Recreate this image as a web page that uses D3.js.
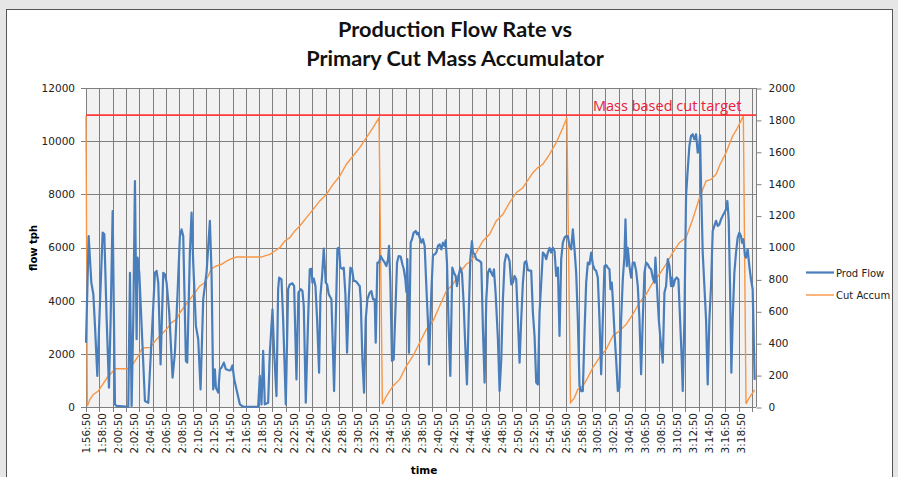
<!DOCTYPE html>
<html><head><meta charset="utf-8">
<script src="https://cdn.jsdelivr.net/npm/d3@7/dist/d3.min.js"></script>
<style>body{margin:0;background:#e6e6e6;} svg{display:block}</style>
</head><body><svg id="c" width="898" height="477"></svg>
<script>
// ---------- DATA ----------
const titleLines = ["Production Flow Rate vs", "Primary Cut Mass Accumulator"];
const timeLabels = ["1:56:50","1:58:50","2:00:50","2:02:50","2:04:50","2:06:50","2:08:50","2:10:50","2:12:50","2:14:50",
  "2:16:50","2:18:50","2:20:50","2:22:50","2:24:50","2:26:50","2:28:50","2:30:50","2:32:50","2:34:50",
  "2:36:50","2:38:50","2:40:50","2:42:50","2:44:50","2:46:50","2:48:50","2:50:50","2:52:50","2:54:50",
  "2:56:50","2:58:50","3:00:50","3:02:50","3:04:50","3:06:50","3:08:50","3:10:50","3:12:50","3:14:50",
  "3:16:50","3:18:50"];
const nCategories = 504;      // 10-second samples
const labelEvery = 12;        // 2 minutes
const tickEvery = 10;
const leftTicks = [0,2000,4000,6000,8000,10000,12000];
const rightTicks = [0,200,400,600,800,1000,1200,1400,1600,1800,2000];
const cutTarget = 1830;
const seriesNames = ["Prod Flow","Cut Accum"];

// [sample index, flow tph]
const prodFlow = [[0,2420],[2,6430],[4,4680],[5.5,4240],[6.75,3050],[8.5,1170],[10.5,3920],[12.5,6560],[13.75,6500],[15.5,3300],[17.25,730],[18.5,3300],[20,7370],[21.75,100],[23,40],[31.75,10],[33,5050],[34.25,40],[35.5,3300],[36.75,8500],[38,2550],[38.75,5620],[40,5050],[41.75,3050],[44.25,225],[46.75,160],[49.25,2550],[51.75,5050],[53,5120],[54.25,4680],[56,1600],[58,5050],[59.25,4990],[60.5,4680],[62.5,3550],[65,1100],[66.75,2040],[68.75,4300],[70.5,6430],[71.75,6680],[73,6430],[75,1730],[76,1670],[78,5810],[79.25,7310],[80.5,5430],[82.5,3050],[84.25,2550],[86,660],[88,4050],[90.5,5050],[93,7000],[94.25,5050],[95.5,660],[96.75,1420],[97.5,730],[99.25,540],[100.5,1420],[101.75,1480],[103.5,1670],[105,1420],[106.75,1390],[108.5,1380],[110,1570],[111.25,1040],[113,660],[115.5,100],[118,10],[129.25,10],[130.5,1170],[131.75,100],[133,2110],[134.25,100],[136.75,160],[138,2040],[140,3670],[141.25,2040],[143,410],[144.25,4430],[145,4870],[146.75,4800],[148,3300],[150,100],[151.75,4430],[153,4610],[155,4650],[156.25,4550],[158,1040],[159.5,4300],[161.25,4430],[162.5,4360],[163.5,3800],[165,160],[166.75,3300],
[168,5180],[169.25,5200],[170,4680],[171,4830],[172.25,4550],[173.5,3300],[175,1290],[176,4180],[177.25,4930],[178.5,5960],[180,4680],[181,4610],[182.25,4240],[184.25,4050],[185.5,1920],[186.25,600],[187.5,3300],[188.75,5960],[190,5990],[191,5240],[192.5,5200],[193.5,5240],[194.75,4240],[196,2040],[197.25,4050],[198.5,5240],[199.75,5180],[201,4740],[202.25,4740],[203.5,4680],[204.75,4590],[205.5,4550],[206.25,4050],[207.5,1790],[208.75,540],[210,3300],[211.25,4050],[213,4300],[214.25,4360],[215.5,4050],[216.75,4050],[217.5,2420],[218.75,5430],[220,5430],[221.25,5680],[222.5,5560],[224.25,5430],[225.5,5300],[226.75,5560],[227.5,6060],[228.5,4680],[229.75,1730],[231,1790],[232.5,3920],[233.5,5430],[234.75,5680],[236.25,5660],[237.5,5370],[238.5,5200],[239.75,4800],[240.5,4330],[241.25,5560],[242.5,2040],[243.75,6180],[244.75,6310],[246,6560],[247.5,6620],[248.5,6500],[249.25,6560],[250.5,6370],[251.75,6180],[253,6310],[254.25,6060],[255.5,4550],[256.75,3170],[257.5,1600],[259.25,4300],[260.5,5720],[261.75,5740],[263,5810],[264.25,6060],[265.5,6120],[266.75,5930],[268,6180],[269.25,6060],[270,6270],[271,5430],[272.25,3050],[273.5,1170],[275,5240],[276.25,5050],[277.5,4930],[278.5,4550],[279.75,4930],[281,5240],[282.25,5050],[283.5,3920],[284.75,2290],[286,850],[287.25,3300],[288.5,5560],[289.75,6240],[290.5,5810],[291.75,5740],[293,5560],[295.5,5490],[296.75,5430],[298,2920],[299.25,920],[300.5,4050],[301.75,5050],[303,5200],[304.25,5050],[305.5,4930],[306.25,5180],[307.5,4300],[309.25,2550],[310.5,600],[311.75,1790],[313,4050],[314.25,5430],[315.5,5740],[316.75,5680],[318,5490],[319.25,4610],[320.5,4680],[321.75,4930],[323,4800],[324.25,3300],[325.5,1670],
[326.75,3300],[328,4680],[329.25,5430],[330.5,5490],[331.75,5150],[334.25,5120],[335.5,3550],[336.75,2670],[338,920],[339.25,850],[340.5,3550],[341.75,4680],[343,5810],[344.25,5740],[345.5,5560],[346.75,5810],[348,5990],[349.25,5810],[350.5,5990],[351.75,5870],[353,4930],[354.25,5240],[355.5,2670],[356.75,5560],[358,6180],[359.25,6370],[360.5,6430],[361.75,6430],[363,6060],[364.25,5930],[365.5,6680],[366.75,5930],[368,5050],[369.25,3300],[370.5,790],[371.75,600],[373,600],[374.25,2800],[375.5,4680],[376.75,5430],[378,5370],[379.25,5810],[380.5,5370],[381.75,5180],[383,5120],[384.25,4870],[385.5,3300],[386.75,1230],[388,3300],[389.25,5300],[390.5,5340],[391.75,5240],[393,5180],[393.75,4430],[394.75,4680],[395.5,4050],[396.75,2800],[398,1790],[399.25,600],[400.5,730],[401.75,3300],[403,4800],[404.25,5680],[405,7060],[406,5300],[406.75,5990],[408,5300],[409.25,4870],[410.5,5430],[411.75,5430],[413,5120],[414.25,4550],[415.5,3300],[416.75,1230],[418,3300],[419.25,5050],[420.5,5430],[421.75,5370],[423,5240],[424.25,5180],[425.5,4870],[426.75,4680],[427.5,5620],[428.5,4680],[430,3300],[431.75,2290],[433,1670],[434.25,4300],[435.5,4550],[436.75,5560],[438,5300],[439.25,4550],[440,4870],[441,4550],[442.25,4800],[443.5,4870],[444.75,4800],[446,3300],[447.25,1790],[448,600],[449.25,3300],[450.5,7940],[451.75,8940],[453,9820],[454.25,10200],[455.5,10260],[456.75,10070],[458,10260],[459.25,9570],[460,9630],[461,10220],[461.75,8310],[463,5810],[464.25,4550],[465.5,3300],[466.75,850],[468,3300],[469.25,4550],[470.5,6620],[471.75,6810],[473,7000],[474.25,6810],[475.5,6870],[476.75,7060],[478,7190],[479.25,7310],[480.5,7440],[481.5,7750],[482.5,7060],[483.5,4550],[484.5,1290],[485.5,3300],[486.75,5050],[488,5810],[489.25,6370],[490.5,6560],[491.75,6430],[492.5,6180],[493.5,6310],[494.75,5680],[495.5,5620],[496.75,5930],[498,5300],[499.25,4800],[500.5,4430],[502,1020]];

// [sample index, cut mass accumulated]
const cutAccum = [[0,1825],[1,6],[3,48],[5.5,79],[9.25,100],[11.75,132],[14.25,163],[16.75,194],[19.25,215],[21.75,240],[31.75,240],[34.25,257],[36.75,288],[39.25,320],[41.75,362],[44.25,372],[48,372],[53,424],[56.75,456],[60.5,487],[64.25,529],[68,550],[70.5,591],[74.25,633],[78,675],[81.75,717],[85.5,759],[89.25,780],[91.75,821],[94.25,867],[98,884],[101.75,895],[105.5,915],[109.25,930],[113,940],[131.75,940],[134.25,947],[138,957],[141.75,978],[145.5,999],[149.25,1041],[153,1062],[156.75,1104],[160.5,1135],[165.5,1187],[170.5,1239],[175.5,1292],[180.5,1333],[185.5,1396],[190.5,1448],[195.5,1522],[200.5,1574],[205.5,1626],[210.5,1689],[215.5,1751],[220,1814],[222.5,17],[225.5,69],[230.5,132],[235.5,173],[240.5,257],[245.5,320],[250.5,403],[255.5,487],[260.5,539],[265.5,633],[270.5,727],[275.5,769],[280.5,842],[285.5,895],[289.25,915],[293,968],[298,1041],[303,1083],[308,1166],[313,1208],[318,1281],[323,1344],[328,1375],[330.5,1407],[335.5,1469],[339.25,1501],[343,1522],[348,1584],[353,1657],[358,1751],[361,1814],[363.75,27],[366.75,59],[369.25,111],[373,132],[376.75,184],[380.5,247],[385.5,309],[390.5,362],[395.5,445],[400.5,477],[405.5,518],[410.5,581],[415.5,654],[420.5,706],[425.5,780],[430.5,832],[435.5,895],[440.5,968],[445.5,1030],[450.5,1062],[455.5,1177],[460.5,1310],[465.5,1417],[469.25,1427],[473,1459],[476,1520],[480.5,1595],[485.5,1699],[488.5,1740],[493.5,1825],[495.5,20],[498,59],[502,107]];

// ---------- LAYOUT ----------
const svg = d3.select("#c");
const P = {l:86, r:756, t:88, b:407};
const C = {flow:"#4a7ebb", accum:"#f79646", target:"#ff3a3a", grid:"#7f7f7f", text:"#000"};
const fontAxis = "DejaVu Sans, Verdana, sans-serif";

const x = d3.scaleLinear().domain([0, nCategories-1]).range([P.l, P.r]);
const yL = d3.scaleLinear().domain([0, 12000]).range([P.b, P.t]);
const yR = d3.scaleLinear().domain([0, 2000]).range([P.b, P.t]);

// background frame
svg.append("rect").attr("x",0).attr("y",0).attr("width",898).attr("height",477).attr("fill","#e6e6e6");
svg.append("rect").attr("x",6.5).attr("y",9.5).attr("width",886).attr("height",480)
  .attr("fill","#fff").attr("stroke","#555").attr("stroke-width",1);

// plot background
svg.append("rect").attr("x",P.l).attr("y",P.t).attr("width",P.r-P.l).attr("height",P.b-P.t).attr("fill","#f2f2f2");

// vertical gridlines every tickEvery samples
const vTicks = d3.range(0, nCategories, tickEvery);
svg.append("g").selectAll("line").data(vTicks).join("line")
  .attr("x1", d=>Math.round(x(d))+0.5).attr("x2", d=>Math.round(x(d))+0.5)
  .attr("y1", P.t).attr("y2", P.b+5).attr("stroke", C.grid).attr("stroke-width",1);
// horizontal gridlines
svg.append("g").selectAll("line").data(leftTicks).join("line")
  .attr("x1", P.l-5).attr("x2", P.r)
  .attr("y1", d=>Math.round(yL(d))+0.5).attr("y2", d=>Math.round(yL(d))+0.5)
  .attr("stroke", C.grid).attr("stroke-width",1);
// right border / axis
svg.append("line").attr("x1",P.r+0.5).attr("x2",P.r+0.5).attr("y1",P.t).attr("y2",P.b).attr("stroke",C.grid);
svg.append("line").attr("x1",P.l+0.5).attr("x2",P.l+0.5).attr("y1",P.t).attr("y2",P.b).attr("stroke",C.grid);

// left axis
const gl = svg.append("g").attr("transform",`translate(${P.l},0)`)
  .call(d3.axisLeft(yL).tickValues(leftTicks).tickSize(0).tickPadding(11).tickFormat(d3.format("d")));
gl.select(".domain").remove();
gl.selectAll("text").attr("font-family",fontAxis).attr("font-size","10.5px").attr("fill","#222");

// right axis
const gr = svg.append("g").attr("transform",`translate(${P.r+0.5},0)`)
  .call(d3.axisRight(yR).tickValues(rightTicks).tickSize(5).tickPadding(7).tickFormat(d3.format("d")));
gr.select(".domain").remove();
gr.selectAll("line").attr("stroke",C.grid).attr("transform","translate(0,0.5)");
gr.selectAll("text").attr("font-family",fontAxis).attr("font-size","10.5px").attr("fill","#222");

// x labels
svg.append("g").selectAll("text").data(timeLabels).join("text")
  .attr("transform",(d,i)=>`translate(${x(i*labelEvery)+4},413) rotate(-90)`)
  .attr("text-anchor","end").attr("font-family",fontAxis).attr("font-size","10.5px").attr("fill","#222")
  .text(d=>d);

// target line
svg.append("line").attr("x1",P.l).attr("x2",P.r).attr("y1",yR(cutTarget)).attr("y2",yR(cutTarget))
  .attr("stroke",C.target).attr("stroke-width",1.6);
svg.append("text").attr("x",593).attr("y",111).attr("font-family","Open Sans, sans-serif").attr("font-size","14.5px")
  .attr("fill","#e8203a").text("Mass based cut target");

// series
const lineL = d3.line().x(d=>x(d[0])).y(d=>yL(d[1]));
const lineR = d3.line().x(d=>x(d[0])).y(d=>yR(d[1]));
svg.append("path").datum(cutAccum).attr("d",lineR).attr("fill","none").attr("stroke",C.accum).attr("stroke-width",1.4);
svg.append("path").datum(prodFlow).attr("d",lineL).attr("fill","none").attr("stroke",C.flow).attr("stroke-width",2.2).attr("stroke-linejoin","round");

// title
const title = svg.append("g").attr("font-family","Lato, sans-serif").attr("font-weight","bold").attr("fill","#111");
titleLines.forEach((t,i)=>{
  title.append("text").attr("x",455).attr("y",[37,66][i]).attr("text-anchor","middle").attr("font-size","20px").text(t);
});
// scale title to reference width
const tl = title.selectAll("text").nodes()[1].getComputedTextLength();
title.selectAll("text").attr("font-size", (20*298/tl).toFixed(2)+"px");

// axis titles
svg.append("text").attr("transform","translate(37,248) rotate(-90)").attr("text-anchor","middle")
  .attr("font-family",fontAxis).attr("font-weight","bold").attr("font-size","10px").text("flow tph");
svg.append("text").attr("x",424).attr("y",474).attr("text-anchor","middle")
  .attr("font-family",fontAxis).attr("font-weight","bold").attr("font-size","10.5px").text("time");

// legend
const lg = svg.append("g");
[[C.flow,2.2],[C.accum,1.4]].forEach((c,i)=>{
  const yy = 272.5 + i*22.5;
  lg.append("line").attr("x1",806).attr("x2",834).attr("y1",yy).attr("y2",yy).attr("stroke",c[0]).attr("stroke-width",c[1]);
  lg.append("text").attr("x",836).attr("y",yy+4).attr("font-family",fontAxis).attr("font-size","10px").attr("fill","#222").text(seriesNames[i]);
});
</script></body></html>
